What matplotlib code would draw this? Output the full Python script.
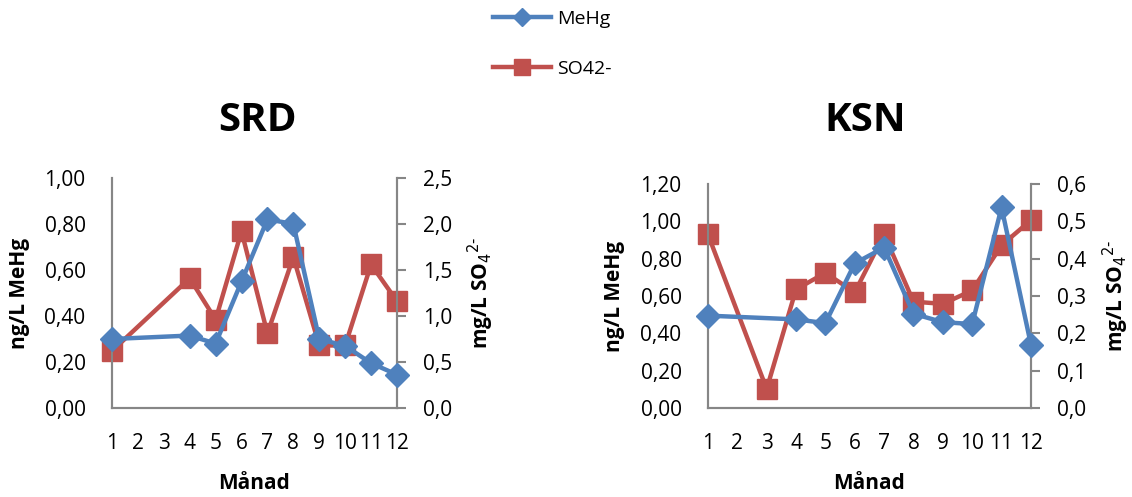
import matplotlib.pyplot as plt
import matplotlib as mpl
from matplotlib.ticker import FuncFormatter
from matplotlib.lines import Line2D

plt.rcParams['font.family'] = ['Open Sans', 'DejaVu Sans']

blue = '#4F81BD'
red = '#C0504D'
grey = '#868686'

months = list(range(1, 13))

srd_mehg_x = [1, 4, 5, 6, 7, 8, 9, 10, 11, 12]
srd_mehg = [0.30, 0.315, 0.28, 0.55, 0.82, 0.80, 0.30, 0.27, 0.195, 0.145]
srd_so4_x = [1, 4, 5, 6, 7, 8, 9, 10, 11, 12]
srd_so4 = [0.62, 1.41, 0.96, 1.92, 0.81, 1.64, 0.68, 0.68, 1.56, 1.16]

ksn_mehg_x = [1, 4, 5, 6, 7, 8, 9, 10, 11, 12]
ksn_mehg = [0.495, 0.475, 0.455, 0.775, 0.86, 0.505, 0.46, 0.45, 1.075, 0.34]
ksn_so4_x = [1, 3, 4, 5, 6, 7, 8, 9, 10, 11, 12]
ksn_so4 = [0.465, 0.051, 0.318, 0.362, 0.31, 0.465, 0.285, 0.279, 0.315, 0.436, 0.503]


def comma(dec):
    return FuncFormatter(lambda v, p: ('{:.%df}' % dec).format(v).replace('.', ','))


def style(ax):
    for s in ax.spines.values():
        s.set_color(grey)
        s.set_linewidth(1.5)
    ax.spines['top'].set_visible(False)
    ax.tick_params(axis='both', labelsize=15, color=grey, width=1.5)


def panel(rect, title, mx, my, sx, sy, ylim1, step1, ylim2, step2, lx, rx):
    ax = fig.add_axes(rect)
    ax2 = ax.twinx()
    ax.plot(mx, my, color=blue, lw=3.2, marker='D', ms=12.5, zorder=3, clip_on=False)
    ax2.plot(sx, sy, color=red, lw=3.2, marker='s', ms=14.5, zorder=3, clip_on=False)
    ax.set_xlim(1, 12)
    ax.set_xticks(months)
    ax.set_ylim(0, ylim1)
    ax.set_yticks([i * step1 for i in range(int(round(ylim1 / step1)) + 1)])
    ax.yaxis.set_major_formatter(comma(2))
    ax2.set_ylim(0, ylim2)
    ax2.set_yticks([i * step2 for i in range(int(round(ylim2 / step2)) + 1)])
    ax2.yaxis.set_major_formatter(comma(1))
    style(ax)
    style(ax2)
    ax.tick_params(axis='x', length=0, pad=18)
    ax.tick_params(axis='y', length=0, pad=19)
    ax2.tick_params(axis='y', length=6.5, pad=12)
    ax.set_xlabel('Månad', fontsize=15, fontweight='bold', labelpad=14)
    ax.set_ylabel('ng/L MeHg', fontsize=15, fontweight='bold')
    ax2.set_ylabel(r'mg/L SO$_4$$^{2\text{-}}$', fontsize=15, fontweight='bold')
    ax.yaxis.set_label_coords(lx, 0.5)
    ax2.yaxis.set_label_coords(rx, 0.5)
    ax.set_zorder(ax2.get_zorder() + 1)
    ax.patch.set_visible(False)
    return ax, ax2


fig = plt.figure(figsize=(11.32, 4.97), dpi=100)

panel([0.0989, 0.179, 0.2518, 0.463], 'SRD', srd_mehg_x, srd_mehg, srd_so4_x, srd_so4,
      1.0, 0.2, 2.5, 0.5, -0.288, 1.24)
panel([0.6254, 0.179, 0.2853, 0.4507], 'KSN', ksn_mehg_x, ksn_mehg, ksn_so4_x, ksn_so4,
      1.2, 0.2, 0.6, 0.1, -0.256, 1.215)

fig.text(258 / 1132, 0.758, 'SRD', fontsize=29, fontweight='bold', ha='center', va='center')
fig.text(865 / 1132, 0.758, 'KSN', fontsize=29, fontweight='bold', ha='center', va='center')

handles = [Line2D([], [], color=blue, lw=3.2, marker='D', ms=9),
           Line2D([], [], color=red, lw=3.2, marker='s', ms=12)]
fig.legend(handles, ['MeHg', 'SO42-'], loc='upper center', bbox_to_anchor=(0.488, 1.015),
           frameon=False, fontsize=14, labelspacing=1.65, handlelength=3.0, handletextpad=0.3)

fig.savefig('out.png', dpi=100)
